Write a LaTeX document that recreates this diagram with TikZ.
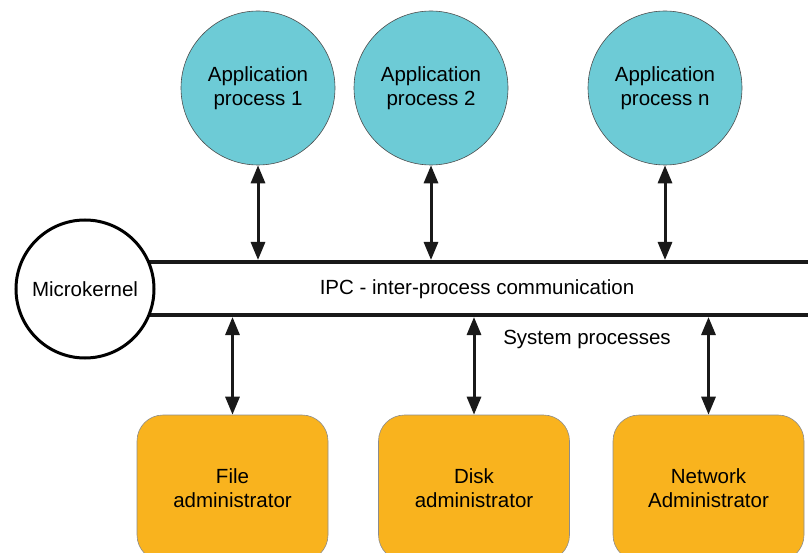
\documentclass[tikz,border=0pt]{standalone}
\usepackage{fontspec}
\setmainfont{Liberation Sans}
\usetikzlibrary{arrows.meta}
\definecolor{appcyan}{HTML}{6DCBD6}
\definecolor{admorange}{HTML}{F9B31E}
\begin{document}
\begin{tikzpicture}[x=1pt,y=-1pt,
  txt/.style={font=\fontsize{20.5}{24.5}\selectfont,align=center,inner sep=0pt},
  app/.style={txt,circle,fill=appcyan,draw=black!70,line width=0.6pt,minimum size=154pt},
  adm/.style={txt,rectangle,rounded corners=26pt,fill=admorange,draw=black!45,line width=0.6pt,
              minimum width=191pt,minimum height=146pt},
  kernel/.style={txt,circle,fill=white,draw=black,line width=3pt,minimum size=138pt},
  bus/.style={line width=4pt,black!90},
  link/.style={line width=3pt,black!90,{Triangle[length=18pt,width=14pt]}-{Triangle[length=18pt,width=14pt]}}
]
\useasboundingbox (0,0) rectangle (808,553);
\begin{scope}
\clip (0,0) rectangle (808,553);

% bus edges
\coordinate (busTL) at (140,262);
\coordinate (busTR) at (808,262);
\coordinate (busBL) at (140,315);
\coordinate (busBR) at (808,315);
\coordinate (busTopEdge) at (0,260);
\coordinate (busBotEdge) at (0,317);

\draw[bus] (busTL) -- (busTR);
\draw[bus] (busBL) -- (busBR);

% microkernel
\node[kernel] (mk) at (85,289) {Microkernel};

% application processes
\node[app] (a1) at (258,88) {Application\\process 1};
\node[app] (a2) at (431,88) {Application\\process 2};
\node[app] (an) at (665,88) {Application\\process n};

% system processes
\node[adm] (fa) at (232.5,488) {File\\administrator};
\node[adm] (da) at (474,488) {Disk\\administrator};
\node[adm] (na) at (708.5,488) {Network\\Administrator};

% labels
\node[txt] (ipc) at (477,289.5) {IPC - inter-process communication};
\node[txt] (sys) at (587,339) {System processes};

% links
\foreach \n in {a1,a2,an}
  \draw[link] (\n.south) -- (\n.south |- busTopEdge);
\foreach \n in {fa,da,na}
  \draw[link] (\n.north |- busBotEdge) -- (\n.north);
\end{scope}
\end{tikzpicture}
\end{document}
